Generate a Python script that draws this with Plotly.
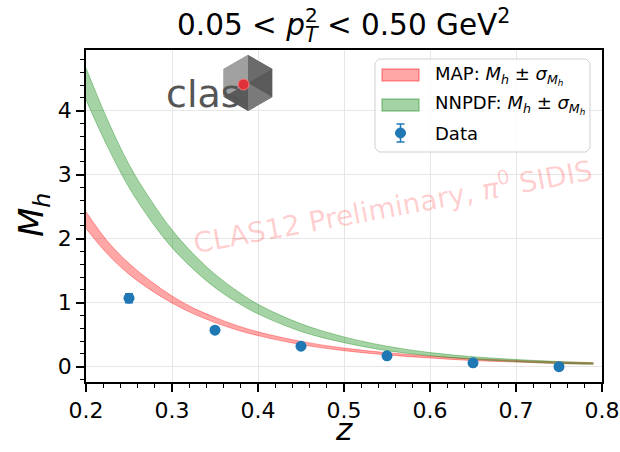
import plotly.graph_objects as go

# ---- data -------------------------------------------------------------
z_grid = [0.20, 0.225, 0.25, 0.275, 0.30, 0.325, 0.35, 0.375, 0.40, 0.45,
          0.50, 0.55, 0.60, 0.65, 0.70, 0.75, 0.79]

map_lo = [2.16, 1.76, 1.445, 1.20, 0.995, 0.825, 0.69, 0.575, 0.485, 0.345,
          0.25, 0.183, 0.135, 0.095, 0.073, 0.05, 0.04]
map_hi = [2.42, 1.96, 1.615, 1.34, 1.105, 0.915, 0.77, 0.645, 0.545, 0.395,
          0.29, 0.218, 0.165, 0.125, 0.097, 0.075, 0.06]

nnpdf_lo = [4.17, 3.44, 2.80, 2.29, 1.86, 1.52, 1.235, 1.01, 0.825, 0.55,
            0.375, 0.25, 0.17, 0.115, 0.078, 0.05, 0.036]
nnpdf_hi = [4.67, 3.86, 3.16, 2.61, 2.14, 1.76, 1.445, 1.19, 0.975, 0.67,
            0.465, 0.32, 0.22, 0.155, 0.112, 0.08, 0.06]

data_z = [0.25, 0.35, 0.45, 0.55, 0.65, 0.75]
data_m = [1.07, 0.57, 0.32, 0.17, 0.06, 0.00]
data_err = [0.07, 0.03, 0.02, 0.02, 0.02, 0.02]

x_ticks = [0.2, 0.3, 0.4, 0.5, 0.6, 0.7, 0.8]
y_ticks = [0, 1, 2, 3, 4]

legend_labels = [
    "MAP: <i>M</i><sub><i>h</i></sub> ± <i>σ</i><sub><i>M</i><sub><i>h</i></sub></sub>",
    "NNPDF: <i>M</i><sub><i>h</i></sub> ± <i>σ</i><sub><i>M</i><sub><i>h</i></sub></sub>",
    "Data",
]

# ---- layout geometry (pixels) -----------------------------------------
W_FIG, H_FIG = 620, 452
M_L, M_R, M_T, M_B = 86, 18, 50, 70
PW = W_FIG - M_L - M_R
PH = H_FIG - M_T - M_B


def px(x):
    """pixel column -> paper x"""
    return (x - M_L) / PW


def py(y):
    """pixel row -> paper y"""
    return (H_FIG - M_B - y) / PH


def path(pts, close=True):
    s = "M " + " L ".join(f"{px(a):.5f},{py(b):.5f}" for a, b in pts)
    return s + (" Z" if close else "")


FONT = "DejaVu Sans"
RED = "rgba(255,0,0,0.35)"
GREEN = "rgba(0,128,0,0.35)"
BLUE = "#1f77b4"

fig = go.Figure()


def add_band(lo, hi, color, name):
    fig.add_trace(go.Scatter(x=z_grid, y=lo, mode="lines", line=dict(color=color, width=1, shape="spline"),
                             showlegend=False, hoverinfo="skip"))
    fig.add_trace(go.Scatter(x=z_grid, y=hi, mode="lines", line=dict(color=color, width=1, shape="spline"),
                             fill="tonexty", fillcolor=color, name=name, showlegend=False))


add_band(map_lo, map_hi, RED, "MAP")
add_band(nnpdf_lo, nnpdf_hi, GREEN, "NNPDF")

fig.add_trace(go.Scatter(
    x=data_z, y=data_m, mode="markers", name="Data", showlegend=False,
    marker=dict(color=BLUE, size=11),
    error_y=dict(type="data", array=data_err, color=BLUE, thickness=1.5, width=4),
))

axis_common = dict(
    showline=True, linecolor="black", linewidth=1.5, mirror=True, automargin=False,
    ticks="outside", ticklen=8, tickwidth=1.5, tickcolor="black",
    showgrid=True, gridcolor="#e6e6e6", gridwidth=1, zeroline=False,
    tickfont=dict(family=FONT, size=22, color="black"),
)

fig.update_xaxes(range=[0.2, 0.8], tickvals=x_ticks, ticktext=[f"{v:.1f}" for v in x_ticks],
                 minor=dict(dtick=0.02, tick0=0.2, ticks="outside", ticklen=4, tickwidth=1.2,
                            tickcolor="black", showgrid=False),
                 **axis_common)
fig.update_yaxes(range=[-0.24, 4.95], tickvals=y_ticks,
                 minor=dict(dtick=0.2, tick0=0, ticks="outside", ticklen=4, tickwidth=1.2,
                            tickcolor="black", showgrid=False),
                 **axis_common)

annotations = [
    # title
    dict(text="0.05 < <i>p</i><sub><i>T</i></sub> < 0.50 GeV<sup>2</sup>",
         x=px(343), y=py(26), xref="paper", yref="paper", xanchor="center", yanchor="middle",
         showarrow=False, font=dict(family=FONT, size=29.5, color="black")),
    dict(text="2", x=px(311), y=py(15), xref="paper", yref="paper", xanchor="center", yanchor="middle",
         showarrow=False, font=dict(family=FONT, size=20, color="black")),
    # axis labels
    dict(text="<i>z</i>", x=px(344), y=py(429), xref="paper", yref="paper",
         xanchor="center", yanchor="middle", showarrow=False,
         font=dict(family=FONT, size=31, color="black")),
    dict(text="<i>M</i><sub><i>h</i></sub>", x=px(33), y=py(215), xref="paper", yref="paper",
         xanchor="center", yanchor="middle", textangle=-90, showarrow=False,
         font=dict(family=FONT, size=34, color="black")),
    # watermark
    dict(text="CLAS12 Preliminary, <i>π</i><sup>0</sup> SIDIS", x=px(392), y=py(205),
         xref="paper", yref="paper", xanchor="center", yanchor="middle", textangle=-10.5,
         showarrow=False, font=dict(family=FONT, size=28, color="rgba(255,0,0,0.2)")),
    # logo lettering
    dict(text="clas", x=px(203), y=py(94), xref="paper", yref="paper", xanchor="center",
         yanchor="middle", showarrow=False,
         font=dict(family="DejaVu Sans", size=38, color="#555555")),
]

# ---- logo hexagon (cube-like) -----------------------------------------
cx, cy, r = 248, 83, 28
hex_pts = [(cx, cy - r), (cx + 0.87 * r, cy - r / 2), (cx + 0.87 * r, cy + r / 2),
           (cx, cy + r), (cx - 0.87 * r, cy + r / 2), (cx - 0.87 * r, cy - r / 2)]

shapes = [
    dict(type="path", path=path(hex_pts), xref="paper", yref="paper",
         fillcolor="#5a5a5a", line=dict(width=0)),
    dict(type="path", path=path([hex_pts[0], (cx, cy), hex_pts[4], hex_pts[5]]), xref="paper", yref="paper",
         fillcolor="#a0a0a0", line=dict(width=0)),
    dict(type="path", path=path([(cx, cy), hex_pts[2], hex_pts[3]]), xref="paper", yref="paper",
         fillcolor="#7a7a7a", line=dict(width=0)),
    dict(type="path", path=path([(cx, cy), hex_pts[0], hex_pts[1]]), xref="paper", yref="paper",
         fillcolor="#6b6b6b", line=dict(width=0)),
    dict(type="circle", xref="paper", yref="paper",
         x0=px(238), x1=px(249), y0=py(90), y1=py(79),
         fillcolor="#e0303a", line=dict(color="#f08080", width=1)),
]

# ---- legend (drawn in paper space) ------------------------------------
LX0, LX1, LY0, LY1, RAD = 375, 590, 59, 152, 4
box = [(LX0 + RAD, LY0), (LX1 - RAD, LY0), (LX1, LY0 + RAD), (LX1, LY1 - RAD),
       (LX1 - RAD, LY1), (LX0 + RAD, LY1), (LX0, LY1 - RAD), (LX0, LY0 + RAD)]
shapes.append(dict(type="path", path=path(box), xref="paper", yref="paper",
                   fillcolor="rgba(255,255,255,0.8)", line=dict(color="#d0d0d0", width=1)))

row_y = [75, 105, 133]
patch_colors = [(RED, "rgba(255,0,0,0.35)"), (GREEN, "rgba(0,128,0,0.35)")]
for yy, (fc, lc) in zip(row_y[:2], patch_colors):
    shapes.append(dict(type="rect", xref="paper", yref="paper",
                       x0=px(382), x1=px(419), y0=py(yy + 6), y1=py(yy - 6),
                       fillcolor=fc, line=dict(color=lc, width=1.5)))
# data legend symbol: marker with error bar
dy = row_y[2]
shapes += [
    dict(type="line", xref="paper", yref="paper", x0=px(400.5), x1=px(400.5), y0=py(dy + 9), y1=py(dy - 9),
         line=dict(color=BLUE, width=1.5)),
    dict(type="line", xref="paper", yref="paper", x0=px(396.5), x1=px(404.5), y0=py(dy - 9), y1=py(dy - 9),
         line=dict(color=BLUE, width=1.5)),
    dict(type="line", xref="paper", yref="paper", x0=px(396.5), x1=px(404.5), y0=py(dy + 9), y1=py(dy + 9),
         line=dict(color=BLUE, width=1.5)),
    dict(type="circle", xref="paper", yref="paper", x0=px(395.5), x1=px(405.5), y0=py(dy + 5), y1=py(dy - 5),
         fillcolor=BLUE, line=dict(color=BLUE, width=1)),
]
for yy, lab in zip(row_y, legend_labels):
    annotations.append(dict(text=lab, x=px(433), y=py(yy), xref="paper", yref="paper",
                            xanchor="left", yanchor="middle", showarrow=False,
                            font=dict(family=FONT, size=18, color="black")))

fig.update_layout(
    width=W_FIG, height=H_FIG,
    margin=dict(l=M_L, r=M_R, t=M_T, b=M_B, pad=0),
    paper_bgcolor="white", plot_bgcolor="white",
    font=dict(family=FONT, color="black"),
    showlegend=False,
    annotations=annotations,
    shapes=shapes,
)

fig.write_html("out.html")
